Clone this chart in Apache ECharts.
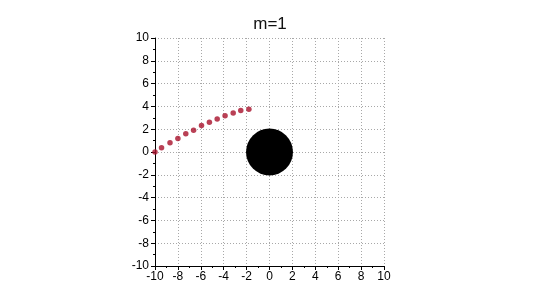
<!DOCTYPE html>
<html>
<head>
<meta charset="utf-8">
<script src="https://cdn.jsdelivr.net/npm/echarts@6/dist/echarts.min.js"></script>
<style>html,body{margin:0;padding:0;background:#fff;}#c{width:540px;height:303px;}</style>
</head>
<body>
<div id="c"></div>
<script>
var titleText = 'm=1';
var xRange = [-10, 10];
var yRange = [-10, 10];
var tickStep = 2;
var trailX = [-10, -9.43, -8.69, -8.0, -7.31, -6.63, -5.94, -5.25, -4.57, -3.88, -3.17, -2.51, -1.80];
var trailY = [0, 0.37, 0.81, 1.19, 1.59, 1.91, 2.32, 2.61, 2.90, 3.19, 3.42, 3.63, 3.74];
var bodyX = [0];
var bodyY = [0];
var bodyR = [2.05];

var trailData = trailX.map(function (x, i) { return [x, trailY[i]]; });
var bodyData = bodyX.map(function (x, i) { return [x, bodyY[i], bodyR[i]]; });

var chart = echarts.init(document.getElementById('c'), null, {renderer: 'canvas'});
var fontFam = 'Liberation Sans, Arial, sans-serif';
function axisCfg(r) {
  return {
    type: 'value', min: r[0], max: r[1], interval: tickStep,
    axisLine: {show: true, onZero: false, lineStyle: {color: '#000', width: 1}},
    axisTick: {show: true, length: 4, lineStyle: {color: '#000'}},
    minorTick: {show: true, splitNumber: 2, length: 2, lineStyle: {color: '#000'}},
    splitLine: {show: true, lineStyle: {color: '#a8a8a8', type: [1, 2], width: 1}},
    axisLabel: {color: '#000', fontSize: 12, fontFamily: fontFam}
  };
}
var xa = axisCfg(xRange); xa.axisLabel.margin = 5;
var ya = axisCfg(yRange); ya.axisLabel.margin = 6;
chart.setOption({
  animation: false,
  backgroundColor: '#fff',
  title: {text: titleText, left: 'center', top: 11, textStyle: {fontSize: 17, fontWeight: 'normal', color: '#111', fontFamily: fontFam}},
  grid: {left: 155, right: 156, top: 38, bottom: 37, containLabel: false},
  xAxis: xa,
  yAxis: ya,
  series: [
    {
      type: 'custom',
      data: bodyData,
      clip: true,
      renderItem: function (params, api) {
        var c = api.coord([api.value(0), api.value(1)]);
        var r = api.size([api.value(2), 0])[0];
        return {type: 'circle', shape: {cx: c[0], cy: c[1], r: r}, style: {fill: '#000'}};
      }
    },
    {
      type: 'scatter',
      data: trailData,
      symbol: 'circle',
      symbolSize: 5.5,
      itemStyle: {color: '#a8102a'},
      z: 5
    }
  ]
});
</script>
</body>
</html>
